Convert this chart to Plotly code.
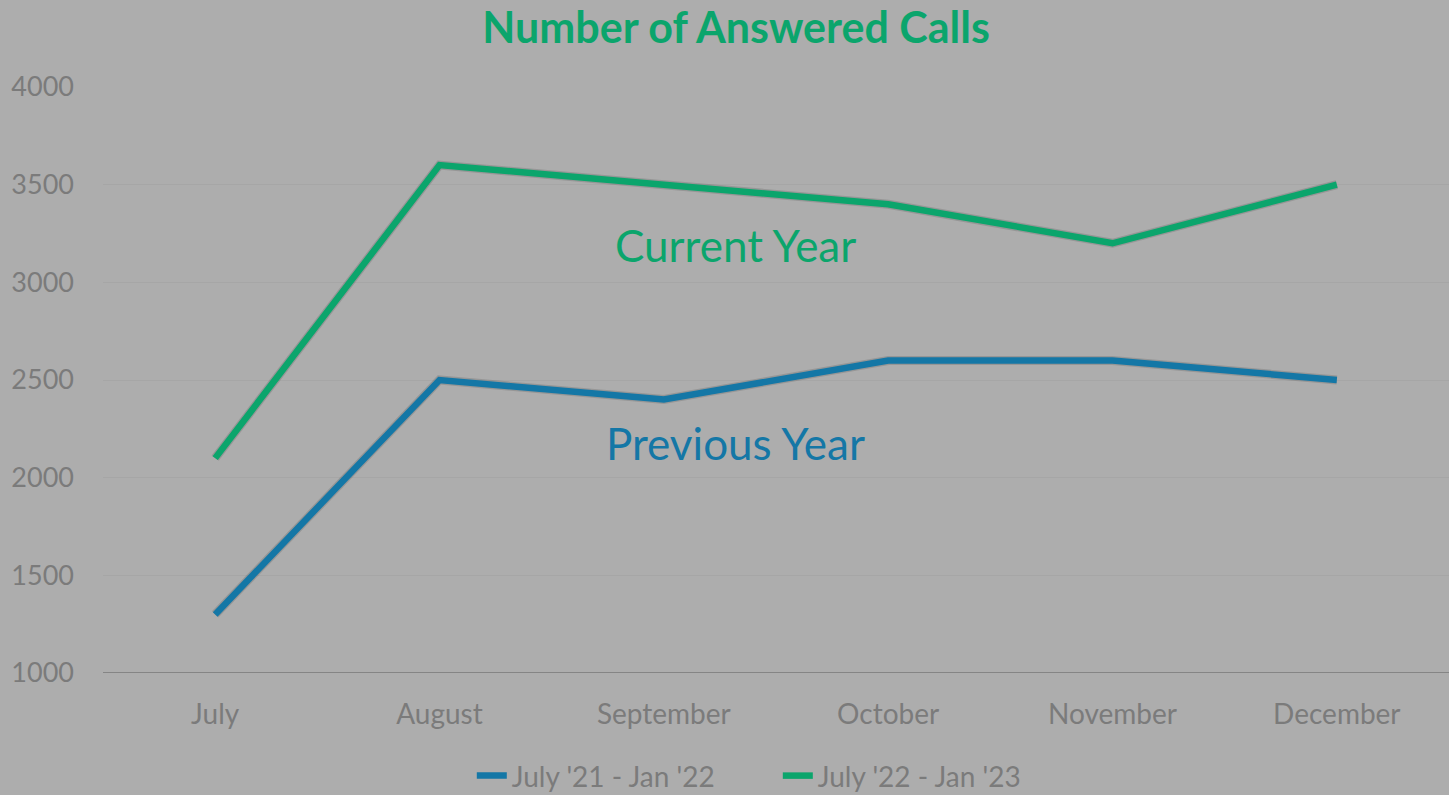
import plotly.graph_objects as go

months = ["July", "August", "September", "October", "November", "December"]
previous_year = [1300, 2500, 2400, 2600, 2600, 2500]
current_year = [2100, 3600, 3500, 3400, 3200, 3500]
series_names = ["July '21 - Jan '22", "July '22 - Jan '23"]
blue = "#1477a6"
green = "#0ba56c"
bg = "#adadad"
tick_color = "#7b7b7b"
font_family = "Lato, 'Open Sans', sans-serif"

fig = go.Figure()
# soft shadows under the lines
for vals in (previous_year, current_year):
    fig.add_trace(go.Scatter(x=months, y=vals, mode="lines", showlegend=False, hoverinfo="skip",
                             line=dict(color="rgba(60,60,60,0.2)", width=9)))
fig.add_trace(go.Scatter(x=months, y=previous_year, mode="lines", name=series_names[0],
                         line=dict(color=blue, width=6.5)))
fig.add_trace(go.Scatter(x=months, y=current_year, mode="lines", name=series_names[1],
                         line=dict(color=green, width=6.5)))

fig.add_annotation(x=2.32, y=3190, xref="x", yref="y", text="Current Year", showarrow=False,
                   font=dict(color=green, size=44, family=font_family))
fig.add_annotation(x=2.32, y=2180, xref="x", yref="y", text="Previous Year", showarrow=False,
                   font=dict(color=blue, size=44, family=font_family))

fig.update_layout(
    width=1449, height=795,
    paper_bgcolor=bg, plot_bgcolor=bg,
    margin=dict(l=103, r=0, t=87, b=122),
    title=dict(text="<b>Number of Answered Calls</b>", x=0.508, xanchor="center", y=0.965, yanchor="middle",
               font=dict(color=green, size=43, family=font_family)),
    font=dict(family=font_family, color=tick_color, size=27),
    legend=dict(orientation="h", x=0.274, xanchor="left", yref="container", y=0.024, yanchor="middle",
                font=dict(size=28, color=tick_color), bgcolor="rgba(0,0,0,0)",
                entrywidth=261, entrywidthmode="pixels", traceorder="normal"),
    showlegend=True,
)
fig.update_xaxes(type="category", range=[-0.5, 5.5], showgrid=False, showline=False,
                 ticks="", tickfont=dict(size=28, color=tick_color), ticklabelstandoff=22)
fig.update_yaxes(range=[1000, 4000], dtick=500, showgrid=True, gridcolor="rgba(155,155,155,0.4)",
                 gridwidth=1, zeroline=False, showline=False, ticks="",
                 tickfont=dict(size=27, color=tick_color), ticklabelstandoff=28)
fig.add_hline(y=1000, line=dict(color="#858585", width=2), layer="below")

fig.write_html("out.html", config={"displayModeBar": False},
               post_script="document.body.style.margin='0';")
